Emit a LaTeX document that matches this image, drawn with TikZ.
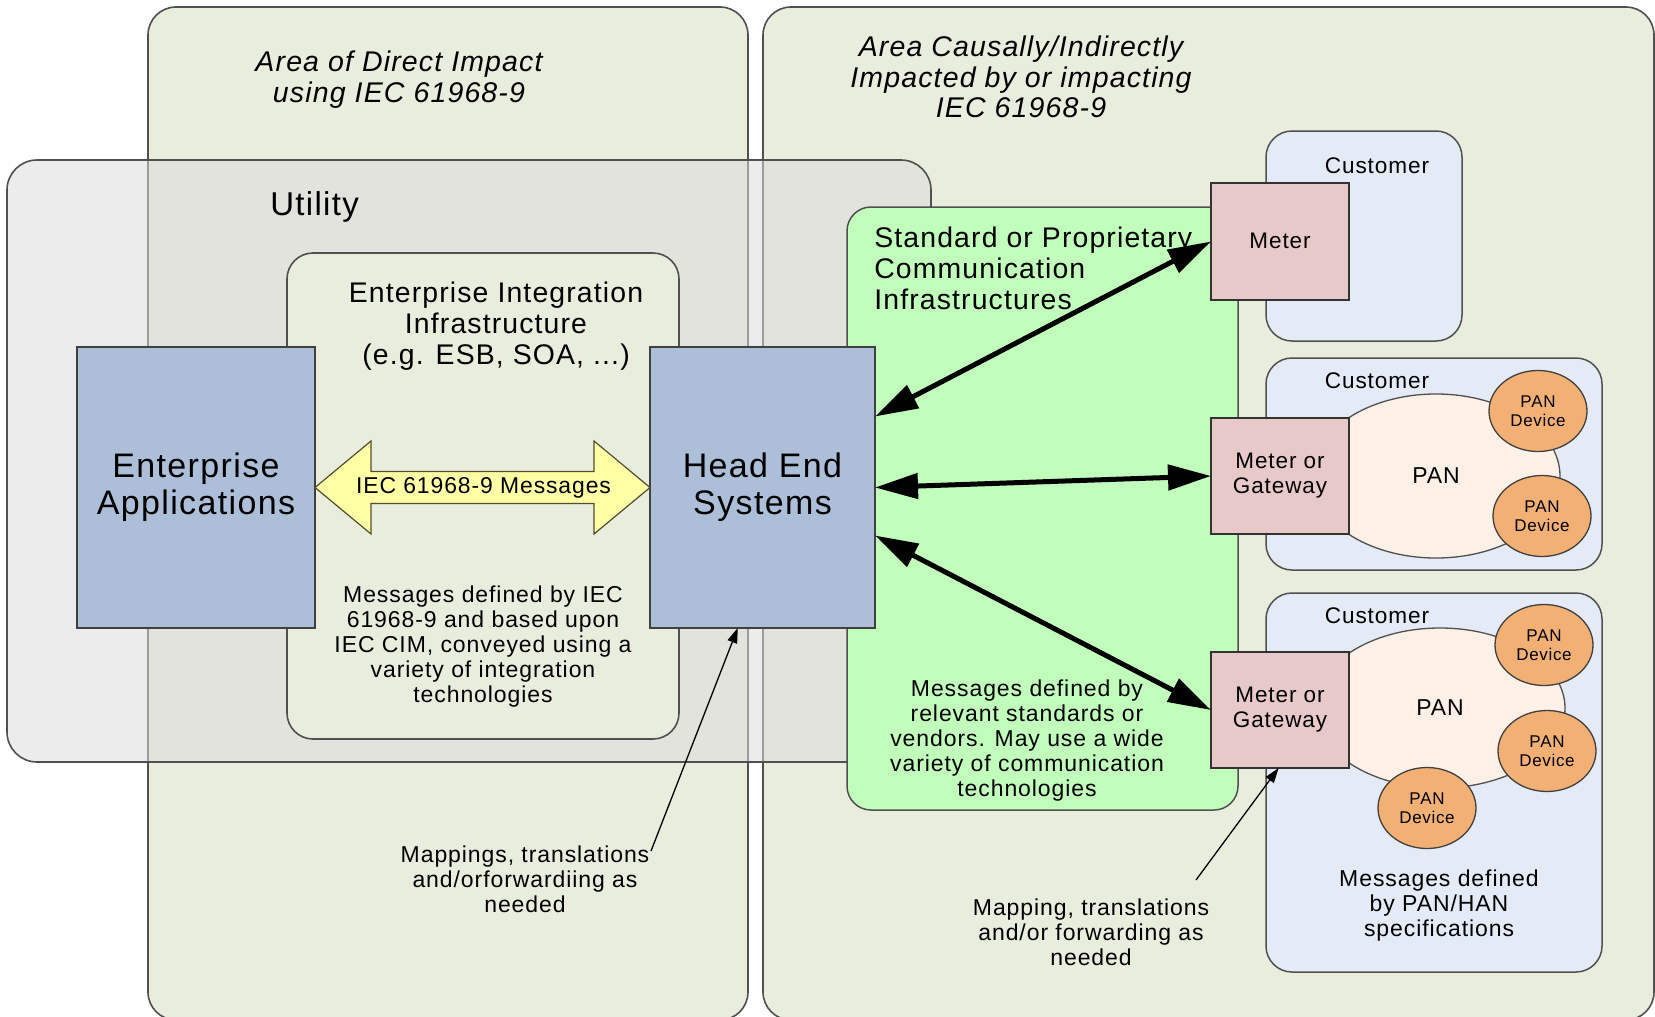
\documentclass[tikz,border=0pt]{standalone}
\usepackage{fontspec}
\setmainfont{Liberation Sans}[LetterSpace=4]
\usetikzlibrary{arrows.meta,calc,fit,shapes.geometric}

\definecolor{areafill}{RGB}{233,237,222}
\definecolor{utilfill}{RGB}{220,220,220}
\definecolor{appfill}{RGB}{173,191,216}
\definecolor{commfill}{RGB}{193,254,188}
\definecolor{custfill}{RGB}{228,235,247}
\definecolor{meterfill}{RGB}{232,201,201}
\definecolor{panfill}{RGB}{253,240,230}
\definecolor{devfill}{RGB}{243,176,117}
\definecolor{msgfill}{RGB}{255,255,165}
\definecolor{edge}{RGB}{80,80,80}

\newcommand\sz[2]{\fontsize{#1}{#2}\selectfont}

\tikzset{
  every node/.style={outer sep=0pt},
  region/.style={draw=edge, line width=1.6pt, rounded corners=28pt,
    fill=areafill, inner sep=0pt},
  utilbox/.style={draw=edge, line width=1.6pt, rounded corners=30pt,
    fill=utilfill, fill opacity=0.55, inner sep=0pt},
  commbox/.style={draw=edge, line width=1.5pt, rounded corners=24pt,
    fill=commfill, inner sep=0pt},
  custbox/.style={draw=edge, line width=1.5pt, rounded corners=26pt,
    fill=custfill, inner sep=0pt},
  appbox/.style={draw=black!75, line width=1.3pt, fill=appfill, inner sep=0pt},
  applabel/.style={align=center, font=\sz{34}{37}},
  meterbox/.style={draw=black!80, line width=1.3pt, fill=meterfill, inner sep=0pt},
  meterlabel/.style={align=center, font=\sz{22.5}{25}},
  panbox/.style={ellipse, draw=edge, line width=1.3pt, fill=panfill,
    inner sep=0pt, font=\sz{23}{25}},
  device/.style={ellipse, draw=black!75, line width=1.3pt, fill=devfill,
    minimum width=98pt, minimum height=81pt, inner sep=0pt,
    align=center, font=\sz{17}{19}},
  msgarrow/.style={draw=black!55!olive, line width=1.2pt, fill=msgfill,
    line join=miter},
  link/.style={line width=5pt, {Triangle[length=43pt,width=25pt]}-{Triangle[length=43pt,width=25pt]}},
  pointer/.style={line width=1.3pt, -{Triangle[length=15pt,width=10pt]}},
  title/.style={align=center, font=\itshape\sz{28.5}{31}},
  heading/.style={align=center, font=\sz{28.4}{31}},
  note/.style={align=center, font=\sz{23}{25}},
  custlabel/.style={font=\sz{22.6}{25}},
}

\begin{document}
\begin{tikzpicture}[x=1pt,y=-1pt]
\useasboundingbox (0,0) rectangle (1655,1017);
\clip (0,0) rectangle (1655,1017);

% impact areas
\node[region, fit={(148,7)(748,1020)}] (direct) {};
\node[region, fit={(763,7)(1654,1020)}] (indirect) {};
\node[title] (directtitle) at (399,80) {Area of Direct Impact\\using IEC 61968-9};
\node[title, font=\itshape\sz{28.5}{30.5}] (indirecttitle) at (1021,77)
  {Area Causally/Indirectly\\Impacted by or impacting\\IEC 61968-9};

% utility domain
\node[utilbox, fit={(7,160)(931,762)}] (utility) {};
\node[anchor=base west, font=\sz{33}{36}] (utilitylabel) at (267,215) {Utility};

% enterprise integration infrastructure
\node[region, rounded corners=26pt, fit={(287,253)(679,739)}] (eii) {};
\node[heading] (eiilabel) at (496,326)
  {Enterprise Integration\\Infrastructure\\(e.g. ESB, SOA, ...)};

% communication infrastructure
\node[commbox, fit={(847,207)(1238,810)}] (comm) {};
\node[heading, align=left, anchor=west] (commlabel) at (871,268)
  {Standard or Proprietary\\Communication\\Infrastructures};

% customers
\node[custbox, fit={(1266,131)(1462,341)}] (cust1) {};
\node[custbox, fit={(1266,358)(1602,570)}] (cust2) {};
\node[custbox, fit={(1266,593)(1602,972)}] (cust3) {};
\node[custlabel] (cust1label) at (1377,166) {Customer};
\node[custlabel] (cust2label) at (1377,381) {Customer};
\node[custlabel] (cust3label) at (1377,616) {Customer};

% personal area networks
\node[panbox, minimum width=248pt, minimum height=164pt] (pan2) at (1436,476) {PAN};
\node[panbox, minimum width=250pt, minimum height=160pt] (pan3) at (1440,708) {PAN};
\node[device] (dev21) at (1538,411) {PAN\\Device};
\node[device] (dev22) at (1542,516) {PAN\\Device};
\node[device] (dev31) at (1544,645) {PAN\\Device};
\node[device] (dev32) at (1547,751) {PAN\\Device};
\node[device] (dev33) at (1427,808) {PAN\\Device};

% meters and gateways
\node[meterbox, fit={(1211,183)(1349,300)}] (meter) {};
\node[meterbox, fit={(1211,418)(1349,534)}] (gw2) {};
\node[meterbox, fit={(1211,652)(1349,768)}] (gw3) {};
\node[meterlabel] (meterlabel) at ($(meter.center)+(0,-1)$) {Meter};
\node[meterlabel] (gw2label) at (gw2.center) {Meter or\\Gateway};
\node[meterlabel] (gw3label) at (gw3.center) {Meter or\\Gateway};

% systems
\node[appbox, fit={(77,347)(315,628)}] (ea) {};
\node[appbox, fit={(650,347)(875,628)}] (he) {};
\node[applabel] (ealabel) at (ea.center) {Enterprise\\Applications};
\node[applabel] (helabel) at (he.center) {Head End\\Systems};

% IEC 61968-9 message exchange
\draw[msgarrow] (ea.east) -- ++(56,-46.5) -- ++(0,30.5)
  -- ($(he.west)+(-56,-16)$) -- ++(0,-30.5) -- (he.west)
  -- ++(-56,46.5) -- ++(0,-30.5) -- ($(ea.east)+(56,16)$)
  -- ++(0,30.5) -- cycle;
\node[font=\sz{22.9}{25}] (msgs) at ($(ea.east)!0.5!(he.west)+(1,0)$) {IEC 61968-9 Messages};

% notes
\node[note] (iecnote) at (483,647)
  {Messages defined by IEC\\61968-9 and based upon\\IEC CIM, conveyed using a\\variety of integration\\technologies};
\node[note] (mapnote1) at (525,879)
  {Mappings, translations\\and/orforwardiing as\\needed};
\node[note] (commnote) at (1027,741)
  {Messages defined by\\relevant standards or\\vendors. May use a wide\\variety of communication\\technologies};
\node[note] (mapnote2) at (1091,932)
  {Mapping, translations\\and/or forwarding as\\needed};
\node[note] (pannote) at (1439,906)
  {Messages defined\\by PAN/HAN\\specifications};

% communication links
\draw[link] ($(he.east)+(0,-71)$) -- (meter.west);
\draw[link] (he.east) -- (gw2.west);
\draw[link] ($(he.east)+(0,48)$) -- (gw3.west);

% pointers from the mapping notes
\coordinate (map1from) at (651,851);
\coordinate (map2from) at (1196,880);
\draw[pointer] (map1from) -- ($(he.south west)!0.39!(he.south east)$);
\draw[pointer] (map2from) -- ($(gw3.south west)!0.49!(gw3.south east)$);
\end{tikzpicture}
\end{document}
